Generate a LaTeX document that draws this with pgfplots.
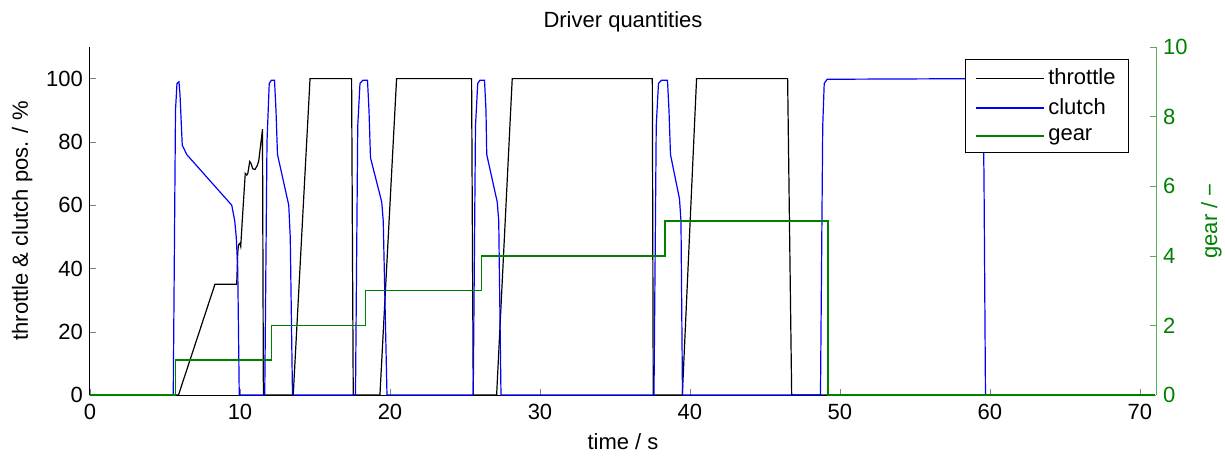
\documentclass[border=0pt]{standalone}
\usepackage{fontspec}
\setmainfont{Liberation Sans}
\usepackage{pgfplots}
\pgfplotsset{compat=1.18}
\definecolor{mgreen}{rgb}{0,0.5,0}
\definecolor{mblue}{rgb}{0,0,1}

\begin{document}
\begin{tikzpicture}[font=\fontsize{11}{13}\selectfont]
\pgfplotsset{
  every axis/.append style={
    scale only axis, width=533pt, height=174pt,
    xmin=0, xmax=71.07,
    tick align=inside, major tick length=3pt,
    /pgf/number format/assume math mode=true,
    tick label style={font=\fontsize{11}{13}\selectfont},
    label style={font=\fontsize{11}{13}\selectfont},
    axis line style={line width=0.5pt},
  }
}
\begin{axis}[
  axis x line*=bottom, axis y line*=left,
  ymin=0, ymax=110,
  xtick={0,10,...,70},
  ytick={0,20,...,100},
  xlabel={time / s},
  ylabel={throttle \& clutch pos. / \%},
  title={Driver quantities},
  title style={font=\fontsize{11}{13}\selectfont, yshift=-2pt},
  xticklabel style={yshift=-1pt},
]
\coordinate (sw) at (rel axis cs:0,0);
\coordinate (ne) at (rel axis cs:1,1);
% throttle
\addplot[black, line width=0.6pt] coordinates {
(0,0) (5.9,0) (8.33,35) (9.78,35) (9.85,45) (9.9,47.5) (10.0,48) (10.05,47)
(10.15,55) (10.35,70) (10.45,69.5) (10.52,70) (10.65,73.8) (10.75,73)
(10.85,71.5) (11.0,71.3) (11.15,72.5) (11.25,74) (11.5,84) (11.56,0)
(13.55,0) (14.67,100) (17.44,100) (17.55,0)
(19.33,0) (20.44,100) (25.44,100) (25.55,0)
(27.11,0) (28.15,100) (37.49,100) (37.55,0)
(39.49,0) (40.44,100) (46.51,100) (46.78,0) (71,0)
};
% clutch
\addplot[mblue, line width=0.6pt] coordinates {
(0,0) (5.55,0) (5.7,90) (5.8,98.5) (5.93,99) (6.0,95) (6.15,79) (6.45,76)
(9.45,60) (9.65,55) (9.75,50) (9.85,40) (9.95,0)
(11.65,0) (11.8,80) (11.95,98.5) (12.1,99.5) (12.3,99.5) (12.4,90) (12.5,76)
(13.25,60) (13.35,50) (13.5,0)
(17.7,0) (17.85,85) (18.0,98.5) (18.2,99.5) (18.5,99.5) (18.6,90) (18.7,75)
(19.45,61) (19.55,55) (19.8,0)
(25.55,0) (25.7,85) (25.85,98.5) (26.0,99.5) (26.3,99.5) (26.4,90) (26.45,76)
(27.15,61) (27.25,55) (27.4,0)
(37.6,0) (37.75,85) (37.9,98.5) (38.1,99.5) (38.5,99.5) (38.6,90) (38.7,76)
(39.3,62) (39.4,55) (39.5,0)
(48.7,0) (48.85,85) (48.95,98.5) (49.15,99.8) (59.5,100) (59.6,70) (59.7,0)
(71,0)
};
\end{axis}

\begin{axis}[
  axis y line*=right, axis x line=none,
  ymin=0, ymax=10,
  ytick={0,2,...,10},
  ylabel={gear / −},
  ylabel style={text=mgreen},
  yticklabel style={text=mgreen},
  y axis line style={draw=mgreen!65},
  ytick style={draw=mgreen!65},
  legend style={at={(0.9747,0.965)}, anchor=north east, draw=black,
    line width=0.5pt, inner xsep=5pt, inner ysep=3pt, row sep=2.5pt,
    nodes={inner sep=1.5pt}, font=\fontsize{11}{13}\selectfont},
  legend cell align=left,
  legend image code/.code={\draw[#1] (0pt,0pt) -- (34pt,0pt);},
]
\addlegendimage{black, line width=0.6pt}
\addlegendentry{throttle}
\addlegendimage{mblue, line width=0.6pt}
\addlegendentry{clutch}
\addplot[mgreen, line width=0.8pt, const plot] coordinates {
(0,0) (5.71,1) (12.11,2) (18.38,3) (26.11,4) (38.33,5) (49.22,0) (71,0)
};
\addlegendentry{gear}
\end{axis}
\pgfresetboundingbox
\path ([shift={(-45pt,-30pt)}]sw) rectangle ([shift={(34.5pt,23.5pt)}]ne);
\end{tikzpicture}
\end{document}
